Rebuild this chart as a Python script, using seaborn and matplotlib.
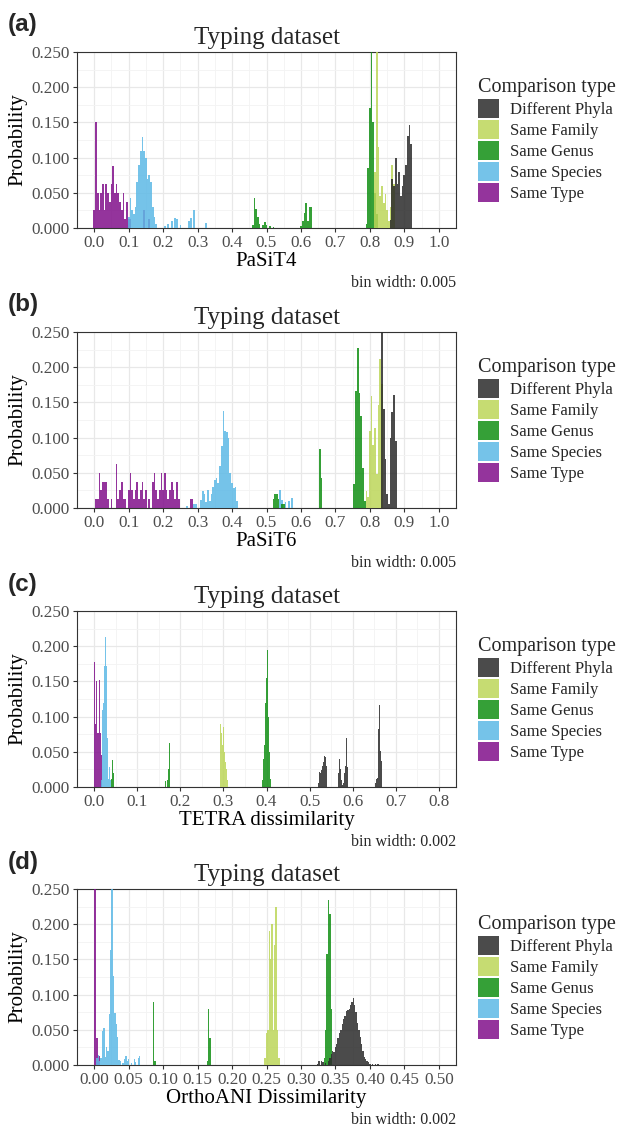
import matplotlib
matplotlib.use("Agg")
import matplotlib.pyplot as plt
import pandas as pd
import seaborn as sns
from matplotlib.patches import Patch
from matplotlib.ticker import MultipleLocator, FormatStrFormatter

TYPES = ["Different Phyla", "Same Family", "Same Genus", "Same Species", "Same Type"]
COLORS = ["#2b2b2b", "#bcd659", "#118f14", "#5db9e6", "#81108b"]

# (bin centre, probability)

# (a) PaSiT4, bin width 0.005
a_phyla = [(0.860, 0.012), (0.865, 0.070), (0.870, 0.060), (0.875, 0.100), (0.880, 0.063),
           (0.885, 0.080), (0.890, 0.045), (0.895, 0.060), (0.900, 0.075), (0.905, 0.090),
           (0.910, 0.130), (0.915, 0.147), (0.920, 0.120)]
a_family = [(0.815, 0.080), (0.820, 0.270), (0.825, 0.115), (0.830, 0.045), (0.835, 0.059),
            (0.840, 0.035), (0.845, 0.049), (0.850, 0.025), (0.855, 0.010), (0.860, 0.030),
            (0.865, 0.090), (0.870, 0.063)]
a_genus = [(0.460, 0.004), (0.465, 0.042), (0.470, 0.027), (0.475, 0.015), (0.480, 0.006),
           (0.490, 0.004), (0.495, 0.008), (0.500, 0.004), (0.510, 0.003), (0.520, 0.002),
           (0.600, 0.003), (0.605, 0.010), (0.610, 0.022), (0.615, 0.036), (0.620, 0.010),
           (0.625, 0.030), (0.630, 0.030), (0.790, 0.005), (0.795, 0.085), (0.800, 0.170),
           (0.805, 0.260), (0.810, 0.150), (0.815, 0.050), (0.820, 0.020)]
a_species = [(0.100, 0.015), (0.105, 0.042), (0.110, 0.025), (0.115, 0.020), (0.120, 0.030),
             (0.125, 0.065), (0.130, 0.090), (0.135, 0.110), (0.140, 0.129), (0.145, 0.110),
             (0.150, 0.100), (0.155, 0.070), (0.160, 0.075), (0.165, 0.065), (0.170, 0.030),
             (0.175, 0.015), (0.180, 0.005), (0.205, 0.003), (0.215, 0.006), (0.225, 0.010),
             (0.235, 0.014), (0.240, 0.0125), (0.250, 0.004), (0.275, 0.010), (0.280, 0.014),
             (0.290, 0.025), (0.325, 0.007)]
a_type = [(0.000, 0.025), (0.005, 0.150), (0.010, 0.050), (0.015, 0.025), (0.020, 0.050),
          (0.025, 0.0625), (0.030, 0.025), (0.035, 0.0625), (0.040, 0.050), (0.045, 0.0375),
          (0.050, 0.0625), (0.055, 0.0875), (0.060, 0.050), (0.065, 0.0625), (0.070, 0.050),
          (0.075, 0.0375), (0.080, 0.025), (0.085, 0.050), (0.090, 0.0125), (0.095, 0.0375),
          (0.100, 0.0125), (0.105, 0.0125), (0.145, 0.025), (0.160, 0.0125)]

# (b) PaSiT6, bin width 0.005
b_phyla = [(0.835, 0.260), (0.840, 0.140), (0.845, 0.070), (0.850, 0.020), (0.855, 0.005),
           (0.860, 0.100), (0.865, 0.137), (0.870, 0.160), (0.875, 0.095)]
b_family = [(0.790, 0.024), (0.795, 0.015), (0.800, 0.110), (0.805, 0.159), (0.810, 0.090),
            (0.815, 0.114), (0.820, 0.048), (0.825, 0.147), (0.830, 0.211), (0.835, 0.176)]
b_genus = [(0.520, 0.0125), (0.525, 0.020), (0.530, 0.020), (0.535, 0.0125), (0.545, 0.006),
           (0.550, 0.006), (0.655, 0.084), (0.660, 0.042), (0.755, 0.034), (0.760, 0.166),
           (0.765, 0.227), (0.770, 0.164), (0.775, 0.130), (0.780, 0.057), (0.785, 0.010)]
b_species = [(0.270, 0.003), (0.290, 0.005), (0.295, 0.006), (0.310, 0.012), (0.315, 0.024),
             (0.320, 0.020), (0.325, 0.008), (0.330, 0.025), (0.335, 0.010), (0.340, 0.020),
             (0.345, 0.030), (0.350, 0.040), (0.355, 0.042), (0.360, 0.035), (0.365, 0.060),
             (0.370, 0.088), (0.375, 0.138), (0.380, 0.110), (0.385, 0.108), (0.390, 0.100),
             (0.395, 0.050), (0.400, 0.035), (0.405, 0.028), (0.410, 0.030), (0.415, 0.010),
             (0.540, 0.025), (0.545, 0.012), (0.555, 0.008), (0.565, 0.010), (0.575, 0.014)]
b_type = [(0.005, 0.0125), (0.010, 0.0125), (0.015, 0.050), (0.020, 0.025), (0.025, 0.0375),
          (0.030, 0.0375), (0.035, 0.0375), (0.040, 0.0125), (0.050, 0.0125), (0.065, 0.0625),
          (0.070, 0.0125), (0.075, 0.025), (0.080, 0.0375), (0.085, 0.0125), (0.090, 0.0125),
          (0.100, 0.025), (0.105, 0.050), (0.110, 0.025), (0.115, 0.0125), (0.120, 0.025),
          (0.125, 0.0375), (0.130, 0.0125), (0.135, 0.025), (0.140, 0.0375), (0.145, 0.0125),
          (0.150, 0.025), (0.160, 0.0125), (0.170, 0.0375), (0.175, 0.050), (0.180, 0.025),
          (0.185, 0.0125), (0.190, 0.025), (0.195, 0.050), (0.200, 0.025), (0.205, 0.050),
          (0.210, 0.025), (0.215, 0.0125), (0.220, 0.025), (0.225, 0.0375), (0.230, 0.025),
          (0.235, 0.0125), (0.240, 0.0375), (0.245, 0.0125), (0.280, 0.0125), (0.285, 0.0125)]

# (c) TETRA dissimilarity, bin width 0.002
c_phyla = [(0.520, 0.005), (0.522, 0.012), (0.524, 0.022), (0.526, 0.020), (0.528, 0.024),
           (0.530, 0.030), (0.532, 0.035), (0.534, 0.044), (0.536, 0.043), (0.538, 0.095),
           (0.540, 0.030), (0.566, 0.010), (0.568, 0.020), (0.570, 0.040), (0.572, 0.025),
           (0.574, 0.010), (0.576, 0.003), (0.578, 0.006), (0.580, 0.012), (0.582, 0.020),
           (0.584, 0.030), (0.586, 0.070), (0.588, 0.028), (0.654, 0.006), (0.656, 0.012),
           (0.658, 0.013), (0.660, 0.082), (0.662, 0.116), (0.664, 0.051), (0.666, 0.044),
           (0.668, 0.037)]
c_family = [(0.292, 0.010), (0.294, 0.090), (0.296, 0.077), (0.298, 0.060), (0.300, 0.085),
            (0.302, 0.050), (0.304, 0.035), (0.306, 0.030), (0.308, 0.025), (0.310, 0.010)]
c_genus = [(0.040, 0.012), (0.042, 0.038), (0.044, 0.020), (0.046, 0.035), (0.162, 0.004),
           (0.166, 0.008), (0.170, 0.010), (0.172, 0.025), (0.174, 0.063), (0.390, 0.010),
           (0.392, 0.015), (0.394, 0.040), (0.396, 0.060), (0.398, 0.120), (0.400, 0.155),
           (0.402, 0.194), (0.404, 0.100), (0.406, 0.050), (0.408, 0.030), (0.410, 0.012)]
c_species = [(0.016, 0.010), (0.018, 0.030), (0.020, 0.110), (0.022, 0.120), (0.024, 0.172),
             (0.026, 0.213), (0.028, 0.172), (0.030, 0.070), (0.032, 0.030), (0.034, 0.012),
             (0.036, 0.028), (0.038, 0.010)]
c_type = [(0.000, 0.178), (0.002, 0.090), (0.004, 0.076), (0.006, 0.150), (0.008, 0.076),
          (0.010, 0.076), (0.012, 0.152), (0.014, 0.076), (0.016, 0.045), (0.018, 0.010)]

# (d) OrthoANI dissimilarity, bin width 0.002
d_phyla = [(0.324, 0.002), (0.326, 0.005), (0.330, 0.006), (0.332, 0.004), (0.336, 0.003),
           (0.340, 0.005), (0.342, 0.010), (0.344, 0.015), (0.346, 0.020), (0.348, 0.018),
           (0.350, 0.025), (0.352, 0.030), (0.354, 0.038), (0.356, 0.045), (0.358, 0.050),
           (0.360, 0.058), (0.362, 0.065), (0.364, 0.070), (0.366, 0.076), (0.368, 0.078),
           (0.370, 0.080), (0.372, 0.085), (0.374, 0.090), (0.376, 0.095), (0.378, 0.085),
           (0.380, 0.075), (0.382, 0.060), (0.384, 0.050), (0.386, 0.040), (0.388, 0.030),
           (0.390, 0.020), (0.392, 0.012), (0.394, 0.008), (0.396, 0.005), (0.398, 0.004),
           (0.400, 0.002), (0.404, 0.002), (0.408, 0.001), (0.412, 0.001)]
d_family = [(0.248, 0.010), (0.250, 0.045), (0.252, 0.050), (0.254, 0.190), (0.256, 0.150),
            (0.258, 0.200), (0.260, 0.050), (0.262, 0.170), (0.264, 0.225), (0.266, 0.050),
            (0.268, 0.010)]
d_genus = [(0.086, 0.089), (0.088, 0.005), (0.164, 0.005), (0.166, 0.080), (0.168, 0.038),
           (0.334, 0.010), (0.336, 0.050), (0.338, 0.157), (0.340, 0.235), (0.342, 0.215),
           (0.344, 0.080)]
d_species = [(0.004, 0.010), (0.006, 0.014), (0.008, 0.005), (0.010, 0.010), (0.012, 0.048),
             (0.014, 0.053), (0.016, 0.012), (0.018, 0.025), (0.020, 0.020), (0.022, 0.072),
             (0.024, 0.163), (0.026, 0.260), (0.028, 0.126), (0.030, 0.074), (0.032, 0.058),
             (0.034, 0.040), (0.036, 0.007), (0.038, 0.006), (0.042, 0.003), (0.044, 0.008),
             (0.046, 0.013), (0.048, 0.006), (0.050, 0.009), (0.054, 0.003), (0.058, 0.008),
             (0.060, 0.004), (0.064, 0.010), (0.066, 0.013)]
d_type = [(0.000, 0.300), (0.002, 0.300), (0.004, 0.038), (0.006, 0.013), (0.008, 0.013)]

PANELS = [
    ("(a)", "PaSiT4", 0.005, 1.0, 0.1, "%.1f", [a_phyla, a_family, a_genus, a_species, a_type]),
    ("(b)", "PaSiT6", 0.005, 1.0, 0.1, "%.1f", [b_phyla, b_family, b_genus, b_species, b_type]),
    ("(c)", "TETRA dissimilarity", 0.002, 0.8, 0.1, "%.1f",
     [c_phyla, c_family, c_genus, c_species, c_type]),
    ("(d)", "OrthoANI Dissimilarity", 0.002, 0.5, 0.05, "%.2f",
     [d_phyla, d_family, d_genus, d_species, d_type]),
]

sns.set_theme(style="whitegrid")
plt.rcParams["font.family"] = ["Liberation Serif", "DejaVu Serif"]

W, H = 622, 1127
fig = plt.figure(figsize=(W / 100, H / 100), dpi=100)
palette = dict(zip(TYPES, COLORS))

AX_LEFT, AX_RIGHT = 77, 456
AX_TOPS = [52, 332, 611, 889]
AX_H = 176

for (tag, xlabel, bw, xmax, xstep, fmt, series), top in zip(PANELS, AX_TOPS):
    ax = fig.add_axes([AX_LEFT / W, 1 - (top + AX_H) / H, (AX_RIGHT - AX_LEFT) / W, AX_H / H])

    rows = []
    for name, pairs in zip(TYPES, series):
        for v, p in pairs:
            rows.append({"value": v, "prob": p, "type": name})
    df = pd.DataFrame(rows)

    sns.histplot(data=df, x="value", weights="prob", hue="type", hue_order=TYPES,
                 palette=palette, binwidth=bw, binrange=(-bw / 2, xmax + bw / 2),
                 multiple="layer", element="bars", alpha=0.85, linewidth=0,
                 legend=False, ax=ax, zorder=3)

    pad = xmax * 0.05
    ax.set_xlim(-pad, xmax + pad)
    ax.set_ylim(0, 0.25)
    ax.xaxis.set_major_locator(MultipleLocator(xstep))
    ax.xaxis.set_minor_locator(MultipleLocator(xstep / 2))
    ax.yaxis.set_major_locator(MultipleLocator(0.05))
    ax.yaxis.set_minor_locator(MultipleLocator(0.025))
    ax.xaxis.set_major_formatter(FormatStrFormatter(fmt))
    ax.yaxis.set_major_formatter(FormatStrFormatter("%.3f"))
    ax.grid(which="major", color="#e8e8e8", lw=0.9)
    ax.grid(which="minor", color="#f3f3f3", lw=0.6)
    ax.set_axisbelow(True)
    ax.tick_params(which="major", length=3, width=0.8, color="#333333", direction="out",
                   labelsize=12.3, labelcolor="#4d4d4d", pad=2, bottom=True, left=True)
    ax.tick_params(which="minor", length=0)
    for s in ax.spines.values():
        s.set_color("#333333")
        s.set_linewidth(0.8)

    ax.set_xlabel(xlabel, fontsize=15, color="black", labelpad=1)
    ax.set_ylabel("Probability", fontsize=15, color="black", labelpad=3)
    ax.set_title("Typing dataset", fontsize=18, pad=6)

    fig.text(AX_RIGHT / W, 1 - (top + 231) / H, f"bin width: {bw}", ha="right", va="center",
             fontsize=11.5)
    fig.text(8 / W, 1 - (top - 27) / H, tag, ha="left", va="center", fontsize=17.5,
             fontweight="bold", family="Liberation Sans")

    handles = [Patch(facecolor=c, alpha=0.85, edgecolor="none") for c in COLORS]
    ax.legend(handles, TYPES, title="Comparison type", loc="center left",
              bbox_to_anchor=(1.04, 0.5), frameon=False, fontsize=12, title_fontsize=14.5,
              handlelength=1.3, handleheight=1.35, labelspacing=0.12, handletextpad=0.65,
              alignment="left", borderaxespad=0)

fig.savefig("out.png", dpi=100)
